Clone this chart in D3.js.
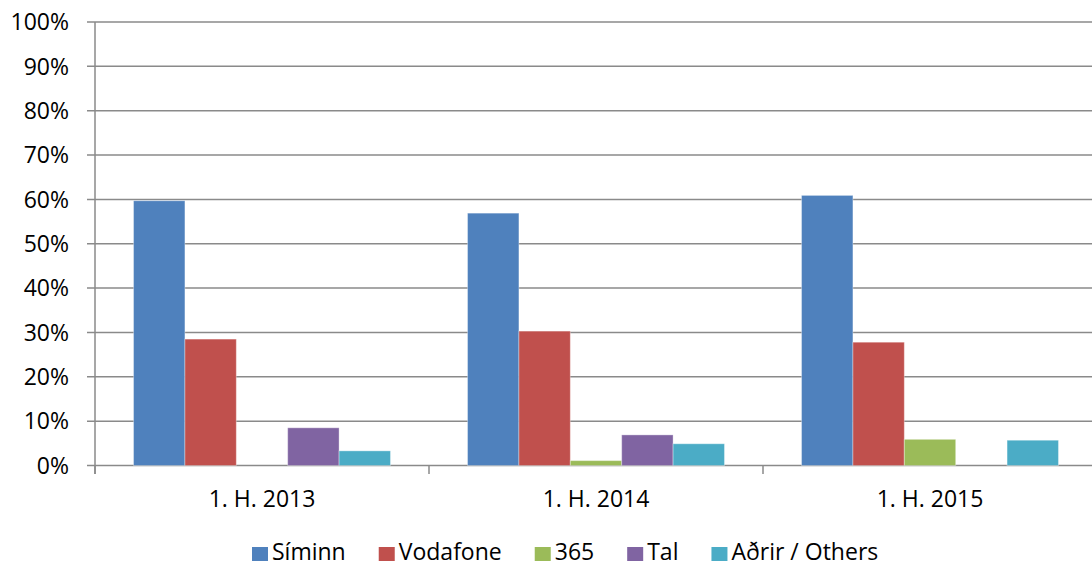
<!DOCTYPE html>
<html>
<head>
<meta charset="utf-8">
<script src="https://cdn.jsdelivr.net/npm/d3@7"></script>
<style>
  body { margin: 0; background: #fff; }
  svg text { font-family: "Open Sans", sans-serif; fill: #000; }
</style>
</head>
<body>
<svg id="chart"></svg>
<script>
// data
var categories = ["1. H. 2013", "1. H. 2014", "1. H. 2015"];
var series = ["Síminn", "Vodafone", "365", "Tal", "Aðrir / Others"];
var siminn = [0.597, 0.569, 0.609];
var vodafone = [0.285, 0.303, 0.278];
var s365 = [0, 0.011, 0.059];
var tal = [0.085, 0.069, 0];
var others = [0.033, 0.049, 0.057];
var yTicks = [0, 0.1, 0.2, 0.3, 0.4, 0.5, 0.6, 0.7, 0.8, 0.9, 1];
var colors = ["#4F81BD", "#C0504D", "#9BBB59", "#8064A2", "#4BACC6"];

var values = [siminn, vodafone, s365, tal, others];

var width = 1092, height = 567;
var svg = d3.select("#chart").attr("width", width).attr("height", height);

// scales
var x = d3.scaleBand().domain(categories).range([95, 1097]);
var xs = d3.scaleBand().domain(series).range([0, x.bandwidth()]).paddingInner(0).paddingOuter(0.75);
var y = d3.scaleLinear().domain([0, 1]).range([465.5, 22]);
var color = d3.scaleOrdinal().domain(series).range(colors);

// gridlines
svg.append("g")
  .selectAll("line")
  .data(yTicks)
  .enter().append("line")
  .attr("x1", 87).attr("x2", 1097)
  .attr("y1", function (d) { return y(d); })
  .attr("y2", function (d) { return y(d); })
  .attr("stroke", "#8a8a8a")
  .attr("stroke-width", 1.5);

// y axis line
svg.append("line")
  .attr("x1", 95).attr("x2", 95)
  .attr("y1", y(1)).attr("y2", 474)
  .attr("stroke", "#8a8a8a").attr("stroke-width", 1.5);

// y labels
svg.append("g")
  .selectAll("text")
  .data(yTicks)
  .enter().append("text")
  .attr("x", 69)
  .attr("y", function (d) { return y(d); })
  .attr("dy", "0.36em")
  .attr("text-anchor", "end")
  .style("font-size", "23px")
  .text(function (d) { return d3.format(".0%")(d); });

// x ticks at category boundaries
var bounds = categories.map(function (c) { return x(c); }).concat([x(categories[categories.length - 1]) + x.bandwidth()]);
svg.append("g")
  .selectAll("line")
  .data(bounds)
  .enter().append("line")
  .attr("x1", function (d) { return d; })
  .attr("x2", function (d) { return d; })
  .attr("y1", y(0)).attr("y2", 474)
  .attr("stroke", "#8a8a8a").attr("stroke-width", 1.5);

// bars
var groups = svg.append("g")
  .selectAll("g")
  .data(categories)
  .enter().append("g")
  .attr("transform", function (d) { return "translate(" + x(d) + ",0)"; });

groups.selectAll("rect")
  .data(function (d, i) {
    return series.map(function (s, j) { return { s: s, v: values[j][i] }; });
  })
  .enter().filter(function (d) { return d.v > 0; })
  .append("rect")
  .attr("x", function (d) { return xs(d.s); })
  .attr("width", xs.bandwidth())
  .attr("y", function (d) { return y(d.v); })
  .attr("height", function (d) { return y(0) - y(d.v); })
  .attr("fill", function (d) { return color(d.s); })
  .attr("stroke", "#ffffff")
  .attr("stroke-opacity", 0.35)
  .attr("stroke-width", 1);

// category labels
svg.append("g")
  .selectAll("text")
  .data(categories)
  .enter().append("text")
  .attr("x", function (d) { return x(d) + x.bandwidth() / 2; })
  .attr("y", 507)
  .attr("text-anchor", "middle")
  .style("font-size", "23px")
  .text(function (d) { return d; });

// legend
var legend = svg.append("g");
var lx = 252;
series.forEach(function (s) {
  legend.append("rect")
    .attr("x", lx).attr("y", 547)
    .attr("width", 16).attr("height", 14)
    .attr("fill", color(s));
  var t = legend.append("text")
    .attr("x", lx + 20).attr("y", 560)
    .style("font-size", "23px")
    .text(s);
  lx += 20 + t.node().getComputedTextLength() + 33;
});
</script>
</body>
</html>
